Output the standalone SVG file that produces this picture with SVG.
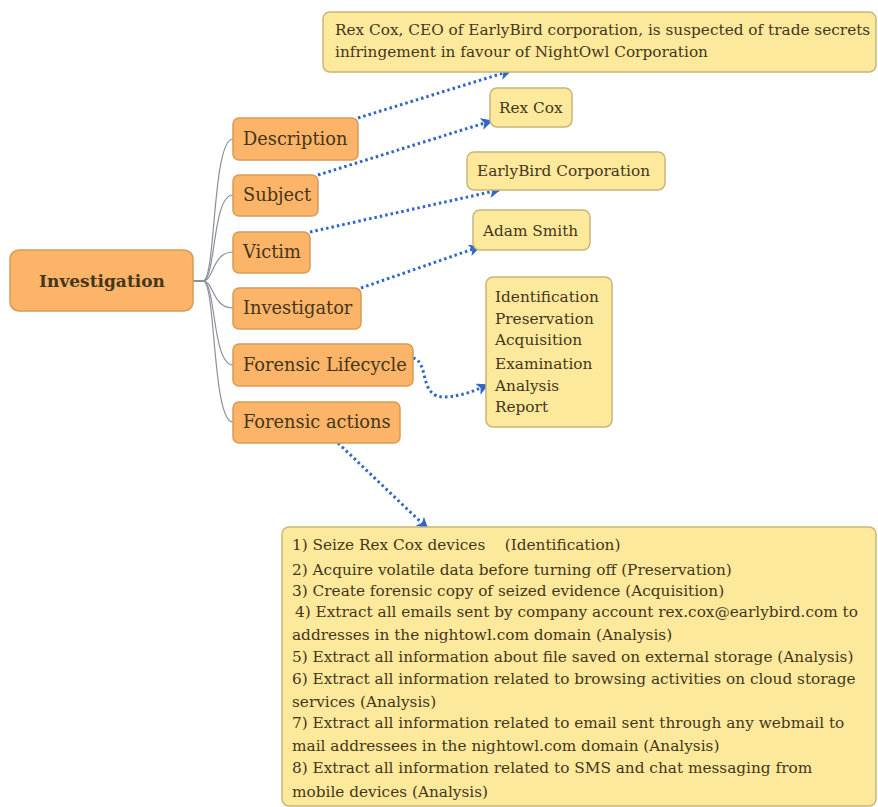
<svg xmlns="http://www.w3.org/2000/svg" width="878" height="807" viewBox="0 0 878 807">
<defs>
<style>
.o{fill:#fbb468;stroke:#d99a55;stroke-width:1.5}
.y{fill:#fde99c;stroke:#c9b57a;stroke-width:1.5}
.t{font-family:"DejaVu Serif","Liberation Serif",serif;fill:#45361a}
.ot{font-size:17.8px}
.yt{font-size:15.3px}
.cv{fill:none;stroke:#8a8f99;stroke-width:1.2}
.da{fill:none;stroke:#2f66c8;stroke-width:3;stroke-dasharray:2.5 3;marker-end:url(#ah)}
</style>
<marker id="ah" markerUnits="userSpaceOnUse" markerWidth="12" markerHeight="12" refX="10" refY="6" orient="auto">
<path d="M0,0 L12,6 L0,12 L3,6 Z" fill="#2f66c8"/>
</marker>
</defs>
<rect width="878" height="807" fill="#ffffff"/>
<g id="connectors">
<path class="cv" d="M192,281 H203 C216,281 212,139 233,139"/>
<path class="cv" d="M192,281 H203 C216,281 212,195 233,195"/>
<path class="cv" d="M192,281 H203 C214,281 212,252 233,252"/>
<path class="cv" d="M192,281 H203 C214,281 212,308 233,308"/>
<path class="cv" d="M192,281 H203 C216,281 212,365 233,365"/>
<path class="cv" d="M192,281 H203 C216,281 212,422 233,422"/>
<path class="da" d="M358,118 L510,71"/>
<path class="da" d="M318,175 L491,121"/>
<path class="da" d="M310,232 L499,190"/>
<path class="da" d="M361,288 L479,247"/>
<path class="da" d="M413,358 C430,362 418,398 445,397 C462,396 474,391 487,385"/>
<path class="da" d="M338,443 L427,528"/>
</g>
<g id="investigation">
<rect class="o" x="10" y="250" width="183" height="61" rx="9"/>
<text class="t" x="102" y="287" font-size="17" font-weight="bold" text-anchor="middle">Investigation</text>
</g>
<g id="description">
<rect class="o" x="233" y="118" width="125" height="42" rx="6"/>
<text class="t ot" x="243" y="145">Description</text>
</g>
<g id="subject">
<rect class="o" x="233" y="175" width="85" height="41" rx="6"/>
<text class="t ot" x="243" y="201">Subject</text>
</g>
<g id="victim">
<rect class="o" x="233" y="232" width="77" height="41" rx="6"/>
<text class="t ot" x="243" y="258">Victim</text>
</g>
<g id="investigator">
<rect class="o" x="233" y="288" width="128" height="41" rx="6"/>
<text class="t ot" x="243" y="314">Investigator</text>
</g>
<g id="lifecycle">
<rect class="o" x="233" y="344" width="180" height="42" rx="6"/>
<text class="t ot" x="243" y="371">Forensic Lifecycle</text>
</g>
<g id="actions">
<rect class="o" x="233" y="402" width="167" height="41" rx="6"/>
<text class="t ot" x="243" y="428">Forensic actions</text>
</g>
<g id="desc-text">
<rect class="y" x="323" y="12" width="553" height="60" rx="7"/>
<text class="t yt" x="335" y="35">Rex Cox, CEO of EarlyBird corporation, is suspected of trade secrets</text>
<text class="t yt" x="335" y="57">infringement in favour of NightOwl Corporation</text>
</g>
<g id="subject-text">
<rect class="y" x="490" y="88" width="82" height="39" rx="7"/>
<text class="t yt" x="499" y="113">Rex Cox</text>
</g>
<g id="victim-text">
<rect class="y" x="467" y="152" width="198" height="38" rx="7"/>
<text class="t yt" x="477" y="176">EarlyBird Corporation</text>
</g>
<g id="investigator-text">
<rect class="y" x="473" y="210" width="117" height="40" rx="7"/>
<text class="t yt" x="483" y="236">Adam Smith</text>
</g>
<g id="lifecycle-text">
<rect class="y" x="486" y="277" width="126" height="150" rx="7"/>
<text class="t yt" x="495" y="302">Identification</text>
<text class="t yt" x="495" y="324">Preservation</text>
<text class="t yt" x="495" y="345">Acquisition</text>
<text class="t yt" x="495" y="369">Examination</text>
<text class="t yt" x="495" y="391">Analysis</text>
<text class="t yt" x="495" y="412">Report</text>
</g>
<g id="actions-text">
<rect class="y" x="282" y="527" width="594" height="279" rx="7"/>
<text class="t yt" x="292" y="550" xml:space="preserve">1) Seize Rex Cox devices    (Identification)</text>
<text class="t yt" x="292" y="575">2) Acquire volatile data before turning off (Preservation)</text>
<text class="t yt" x="292" y="596">3) Create forensic copy of seized evidence (Acquisition)</text>
<text class="t yt" x="295" y="617">4) Extract all emails sent by company account rex.cox@earlybird.com to</text>
<text class="t yt" x="292" y="640">addresses in the nightowl.com domain (Analysis)</text>
<text class="t yt" x="292" y="662">5) Extract all information about file saved on external storage (Analysis)</text>
<text class="t yt" x="292" y="684">6) Extract all information related to browsing activities on cloud storage</text>
<text class="t yt" x="292" y="707">services (Analysis)</text>
<text class="t yt" x="292" y="728">7) Extract all information related to email sent through any webmail to</text>
<text class="t yt" x="292" y="751">mail addressees in the nightowl.com domain (Analysis)</text>
<text class="t yt" x="292" y="773">8) Extract all information related to SMS and chat messaging from</text>
<text class="t yt" x="292" y="797">mobile devices (Analysis)</text>
</g>
</svg>
